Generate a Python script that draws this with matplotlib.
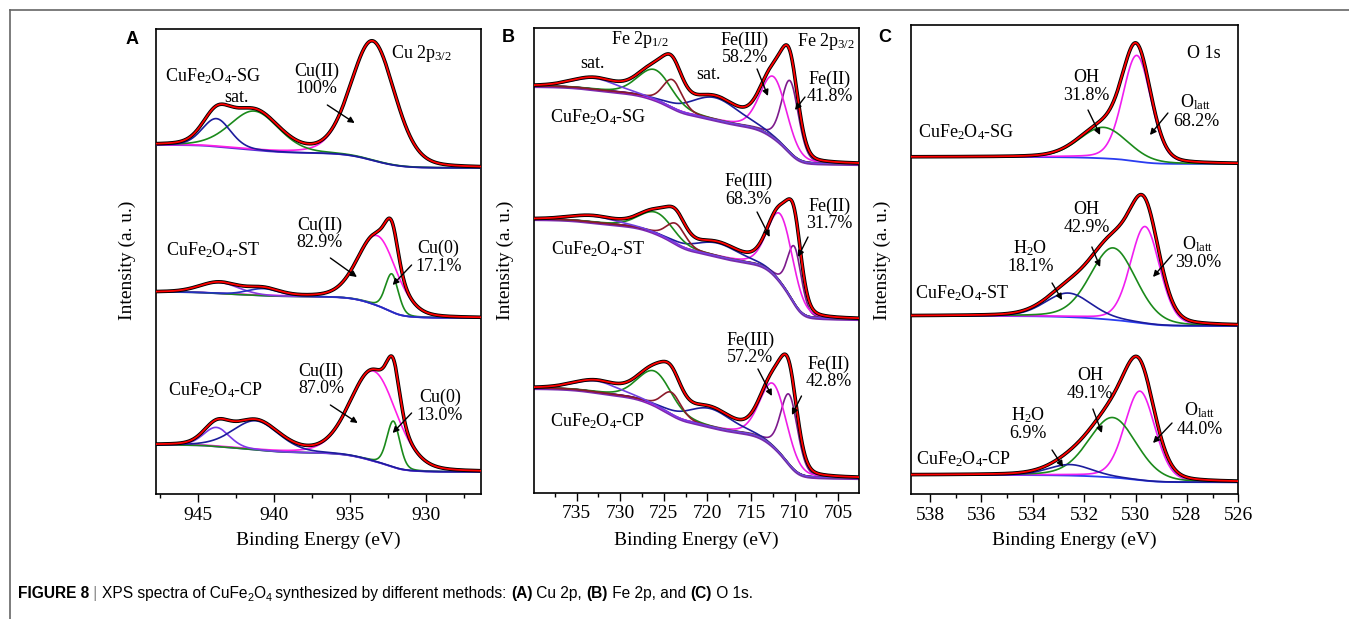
import numpy as np
import matplotlib
matplotlib.use('Agg')
import matplotlib.pyplot as plt
from matplotlib import font_manager
from matplotlib.lines import Line2D
from matplotlib.ticker import MultipleLocator

W, H = 1349, 619
plt.rcParams['font.family'] = 'Liberation Serif'
plt.rcParams['mathtext.fontset'] = 'custom'
plt.rcParams['mathtext.rm'] = 'Liberation Serif'
plt.rcParams['mathtext.it'] = 'Liberation Serif:italic'
plt.rcParams['mathtext.bf'] = 'Liberation Serif:bold'

# ------------------------------------------------------------------ data
samples = ['CuFe$_2$O$_4$-SG', 'CuFe$_2$O$_4$-ST', 'CuFe$_2$O$_4$-CP']

# Panel A: Cu 2p  (peak centre eV, height, FWHM eV)
cu_xlim = (947.8, 926.4)
cu_ticks = [945, 940, 935, 930]
cu_base_left = [349, 202, 49]
cu_base_right = [326, 176, 22]
cu_centers = [[933.5, 941.3, 943.8],
              [933.2, 932.25, 943.6, 940.7],
              [933.45, 932.15, 943.8, 941.2]]
cu_heights = [[119, 39, 28],
              [70, 38, 11, 7],
              [90, 46, 19, 29]]
cu_fwhm = [[3.4, 3.8, 2.2],
           [3.0, 1.0, 3.0, 2.5],
           [3.6, 1.0, 2.0, 3.6]]
cu_colors = [['#ff1ee6', '#1b8a1b', '#1c1c9c'],
             ['#ff1ee6', '#1b8a1b', '#8a3ae0', '#2030c0'],
             ['#ff1ee6', '#1b8a1b', '#7a3ae8', '#1c1c9c']]

# Panel B: Fe 2p  (Fe(II), Fe(III), sat, 2p1/2 a, 2p1/2 b, sat)
fe_xlim = (739.9, 702.6)
fe_ticks = [735, 730, 725, 720, 715, 710, 705]
fe_base_left = [407, 274, 105]
fe_base_right = [329, 174, 15]
fe_centers = [[710.5, 712.4, 719.1, 726.0, 724.0, 732.9],
              [710.0, 711.6, 718.8, 725.8, 723.6, 733.0],
              [710.6, 712.4, 719.7, 726.0, 724.1, 732.7]]
fe_heights = [[72, 61, 22, 30, 28, 11],
              [57, 68, 13, 21, 20, 6],
              [70, 63, 18, 34, 22, 11]]
fe_fwhm = [[2.3, 3.6, 6.5, 4.6, 2.6, 6.0],
           [1.9, 3.4, 6.0, 4.6, 2.6, 6.0],
           [2.3, 3.6, 6.0, 4.6, 2.6, 6.0]]
fe_colors = ['#7d1a8c', '#ee1ee6', '#1c1c9c', '#1b8a1b', '#8c1a2a', '#7040e0']

# Panel C: O 1s  (O_latt, OH, H2O)
o_xlim = (538.74, 526.0)
o_ticks = [538, 536, 534, 532, 530, 528, 526]
o_base_left = [337, 178, 19]
o_base_right = [330, 168, 11.7]
o_centers = [[529.95, 531.25], [529.63, 530.87, 532.62], [529.83, 530.89, 532.55]]
o_heights = [[106, 31], [97, 72, 24], [89, 60, 11]]
o_fwhm = [[1.3, 2.2], [1.35, 2.1, 2.1], [1.4, 2.2, 2.0]]
o_colors = ['#f01ef0', '#1b8a1b', '#1c1c9c']

# annotations (text, x eV, y)
cu_labels = [('CuFe$_2$O$_4$-SG', 944.0, 418), ('sat.', 942.5, 397),
             ('Cu(II)\n100%', 937.2, 414),
             ('CuFe$_2$O$_4$-ST', 944.0, 244), ('Cu(II)\n82.9%', 937.0, 260),
             ('Cu(0)\n17.1%', 929.2, 236.5),
             ('CuFe$_2$O$_4$-CP', 943.85, 104), ('Cu(II)\n87.0%', 936.9, 114),
             ('Cu(0)\n13.0%', 929.1, 87.5)]
cu_arrows = [((936.5, 389), (934.7, 371)), ((936.3, 236), (934.55, 217)),
             ((930.95, 229), (932.2, 209)), ((936.3, 89), (934.5, 71)),
             ((930.95, 81), (932.2, 61))]
fe_labels = [('sat.', 733.25, 429), ('Fe 2p$_{1/2}$', 727.7, 453), ('sat.', 719.9, 418),
             ('Fe(III)\n58.2%', 715.7, 444), ('Fe 2p$_{3/2}$', 706.4, 451),
             ('Fe(II)\n41.8%', 705.95, 405), ('CuFe$_2$O$_4$-SG', 732.5, 376),
             ('Fe(III)\n68.3%', 715.3, 302.5), ('Fe(II)\n31.7%', 705.95, 278),
             ('CuFe$_2$O$_4$-ST', 732.5, 244),
             ('Fe(III)\n57.2%', 715.1, 144), ('Fe(II)\n42.8%', 706.1, 120),
             ('CuFe$_2$O$_4$-CP', 732.6, 72)]
fe_arrows = [((714.3, 424), (713.05, 397)), ((708.8, 396), (709.95, 383)),
             ((714.3, 281), (712.85, 256)), ((708.45, 256), (709.6, 236)),
             ((714.2, 124), (712.6, 97)), ((709.2, 97), (710.3, 78))]
o_labels = [('O 1s', 527.35, 441), ('OH\n31.8%', 531.93, 407.5),
            ('O$_{\\rm latt}$\n68.2%', 527.65, 383), ('CuFe$_2$O$_4$-SG', 536.6, 362),
            ('OH\n42.9%', 531.9, 275.5), ('H$_2$O\n18.1%', 534.1, 237.5),
            ('O$_{\\rm latt}$\n39.0%', 527.57, 241.5), ('CuFe$_2$O$_4$-ST', 536.75, 201),
            ('OH\n49.1%', 531.77, 109.5), ('H$_2$O\n6.9%', 534.2, 70.5),
            ('O$_{\\rm latt}$\n44.0%', 527.5, 75), ('CuFe$_2$O$_4$-CP', 536.7, 35)]
o_arrows = [((531.85, 384), (531.38, 359)), ((528.74, 381), (529.44, 359)),
            ((531.7, 247), (531.38, 227)), ((533.25, 211), (532.86, 194)),
            ((528.58, 239), (529.32, 217)),
            ((531.66, 85), (531.31, 61)), ((533.25, 44), (532.82, 27)),
            ((528.58, 71), (529.32, 51))]

# ------------------------------------------------------------------ helpers
def peak(x, c, h, fw, eta=0.2):
    s = fw / 2.3548
    g = np.exp(-(x - c) ** 2 / (2 * s ** 2))
    l = 1.0 / (1.0 + ((x - c) / (fw / 2)) ** 2)
    return h * ((1 - eta) * g + eta * l)


def draw_spectrum(ax, xlim, left, right, cs, hs, fws, cols, base_cols):
    x = np.linspace(min(xlim), max(xlim), 2000)
    comps = [peak(x, c, h, f) for c, h, f in zip(cs, hs, fws)]
    tot = np.sum(comps, axis=0)
    cum = np.cumsum(tot)
    base = right + (left - right) * cum / cum[-1]
    for k, bc in enumerate(base_cols):
        ax.plot(x, base - 1.2 * k, color=bc, lw=1.3, zorder=2)
    for comp, col in zip(comps, cols):
        ax.plot(x, base + comp, color=col, lw=1.2, zorder=3)
    ax.plot(x, base + tot, color='black', lw=2.6, zorder=4)
    ax.plot(x, base + tot, color='#ff0000', lw=1.3, zorder=5)


def style_axis(ax, xlim, ticks, minor, ylim):
    ax.set_xlim(*xlim)
    ax.set_ylim(*ylim)
    ax.set_xticks(ticks)
    ax.xaxis.set_minor_locator(MultipleLocator(minor))
    ax.set_yticks([])
    ax.tick_params(axis='x', which='major', direction='out', length=6, width=1.0,
                   labelsize=14, pad=3)
    ax.tick_params(axis='x', which='minor', direction='out', length=3, width=1.0)
    for sp in ax.spines.values():
        sp.set_linewidth(1.2)


def annotate(ax, labels, arrows):
    for s, x, y in labels:
        ax.text(x, y, s, ha='center', va='center', fontsize=13, linespacing=1.05, zorder=6)
    for tail, head in arrows:
        ax.annotate('', xy=head, xytext=tail, zorder=6,
                    arrowprops=dict(arrowstyle='-|>', color='black', lw=1.0,
                                    mutation_scale=9, shrinkA=0, shrinkB=0))


def axpos(l, r, t, b):
    return [l / W, 1 - b / H, (r - l) / W, (b - t) / H]

# ------------------------------------------------------------------ figure
fig = plt.figure(figsize=(W / 100, H / 100), dpi=100)
fig.patch.set_facecolor('white')

axA = fig.add_axes(axpos(155.7, 480.7, 29, 494))
axB = fig.add_axes(axpos(534, 859, 28, 493))
axC = fig.add_axes(axpos(911, 1238.3, 25, 494))

for i in range(3):
    draw_spectrum(axA, cu_xlim, cu_base_left[i], cu_base_right[i], cu_centers[i],
                  cu_heights[i], cu_fwhm[i], cu_colors[i], ['#5a2fd6'])
    draw_spectrum(axB, fe_xlim, fe_base_left[i], fe_base_right[i], fe_centers[i],
                  fe_heights[i], fe_fwhm[i], fe_colors, ['#7a1a2a', '#7a2ab0'])
    draw_spectrum(axC, o_xlim, o_base_left[i], o_base_right[i], o_centers[i],
                  o_heights[i], o_fwhm[i], o_colors[:len(o_centers[i])], ['#2a3cf0'])

style_axis(axA, cu_xlim, cu_ticks, 2.5, (0, 465))
style_axis(axB, fe_xlim, fe_ticks, 2.5, (0, 465))
style_axis(axC, o_xlim, o_ticks, 1, (0, 469))

annotate(axA, cu_labels, cu_arrows)
axA.text(932.3, 441, 'Cu 2p$_{3/2}$', ha='left', va='center', fontsize=13, zorder=6)
annotate(axB, fe_labels, fe_arrows)
annotate(axC, o_labels, o_arrows)


def ftext(px, py, s, **kw):
    return fig.text(px / W, 1 - py / H, s, **kw)

for ax, cx, ylx in [(axA, 318, 127), (axB, 696.5, 505), (axC, 1074.6, 882)]:
    ftext(cx, 540, 'Binding Energy (eV)', ha='center', va='center', fontsize=14)
    ftext(ylx, 260, 'Intensity (a. u.)', ha='center', va='center', fontsize=14,
          rotation=90)

for letter, px, py in [('A', 132, 40), ('B', 508, 38), ('C', 885, 38)]:
    ftext(px, py, letter, ha='center', va='center', fontsize=13, fontweight='bold',
          family='Liberation Sans')

# outer frame lines
fig.add_artist(Line2D([10 / W, 1], [1 - 10 / H, 1 - 10 / H], color='#666666', lw=1.2,
                      transform=fig.transFigure))
fig.add_artist(Line2D([10 / W, 10 / W], [1 - 10 / H, 0], color='#666666', lw=1.2,
                      transform=fig.transFigure))

# caption
cap_family = 'Liberation Sans'
try:
    font_manager.findfont('Liberation Sans Narrow', fallback_to_default=False)
    cap_family = 'Liberation Sans Narrow'
    cap_size = 12.4
except Exception:
    cap_size = 11.2

pieces = [('FIGURE 8', 'bold', 0, 1.0, 'black'), (' | ', 'normal', 0, 1.0, '#888888'),
          ('XPS spectra of CuFe', 'normal', 0, 1.0, 'black'),
          ('2', 'normal', -3, 0.7, 'black'), ('O', 'normal', 0, 1.0, 'black'),
          ('4', 'normal', -3, 0.7, 'black'),
          (' synthesized by different methods: ', 'normal', 0, 1.0, 'black'),
          ('(A)', 'bold', 0, 1.0, 'black'), (' Cu 2p, ', 'normal', 0, 1.0, 'black'),
          ('(B)', 'bold', 0, 1.0, 'black'), (' Fe 2p, and ', 'normal', 0, 1.0, 'black'),
          ('(C)', 'bold', 0, 1.0, 'black'), (' O 1s.', 'normal', 0, 1.0, 'black')]
renderer = fig.canvas.get_renderer()
xcur = 18.0
ybase = 598.0
for s, wt, dy, scale, col in pieces:
    t = ftext(xcur, ybase - dy, s.replace(' ', '\u00a0'), ha='left', va='baseline',
              fontsize=cap_size * scale, fontweight=wt, family=cap_family, color=col)
    bb = t.get_window_extent(renderer)
    xcur += bb.width

fig.savefig('out.png', dpi=100, facecolor='white')
